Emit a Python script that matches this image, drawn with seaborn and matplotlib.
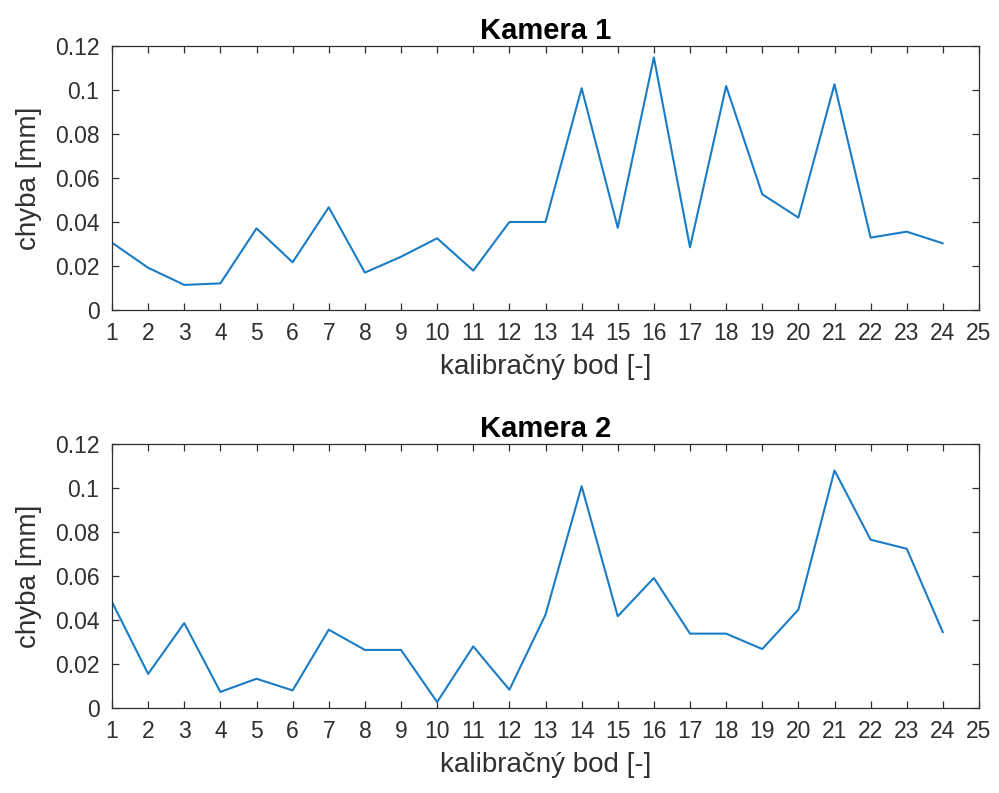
import matplotlib
matplotlib.use("Agg")
import matplotlib.pyplot as plt
import seaborn as sns
import pandas as pd

body = list(range(1, 25))
kamera1 = [0.0306, 0.0192, 0.0114, 0.0121, 0.0371, 0.0217, 0.0467, 0.0170,
           0.0242, 0.0326, 0.0179, 0.0400, 0.0400, 0.1008, 0.0374, 0.1148,
           0.0285, 0.1018, 0.0526, 0.0420, 0.1026, 0.0329, 0.0356, 0.0303]
kamera2 = [0.0482, 0.0155, 0.0386, 0.0073, 0.0133, 0.0080, 0.0356, 0.0264,
           0.0264, 0.0027, 0.0280, 0.0083, 0.0424, 0.1008, 0.0417, 0.0591,
           0.0338, 0.0338, 0.0268, 0.0447, 0.1080, 0.0765, 0.0724, 0.0344]
titles = ["Kamera 1", "Kamera 2"]
xticks = list(range(1, 26))
yticks = [0, 0.02, 0.04, 0.06, 0.08, 0.1, 0.12]
ytick_labels = ["0", "0.02", "0.04", "0.06", "0.08", "0.1", "0.12"]
xlabel = "kalibračný bod [-]"
ylabel = "chyba [mm]"

sns.set_style("ticks")
plt.rcParams['font.family'] = ['Liberation Sans', 'DejaVu Sans']

fig = plt.figure(figsize=(9.99, 7.93), dpi=100)
W, H = 999, 793
frames = [(112, 46, 979, 310), (112, 444, 979, 708)]
txt = "#303030"
for (l, t, r, b), title, vals in zip(frames, titles, [kamera1, kamera2]):
    ax = fig.add_axes([l / W, 1 - b / H, (r - l) / W, (b - t) / H])
    df = pd.DataFrame({"bod": body, "chyba": vals})
    sns.lineplot(data=df, x="bod", y="chyba", ax=ax, color="#1a7cc4", linewidth=1.5)
    ax.set_xlim(1, 25)
    ax.set_ylim(0, 0.12)
    ax.set_xticks(xticks)
    ax.set_xticklabels([str(v) for v in xticks])
    ax.set_yticks(yticks)
    ax.set_yticklabels(ytick_labels)
    ax.tick_params(direction="in", length=5, width=0.9, colors=txt,
                   labelsize=16.5, top=True, right=True, pad=9)
    for s in ax.spines.values():
        s.set_visible(True)
        s.set_color(txt)
        s.set_linewidth(0.9)
    ax.set_title(title, fontsize=21, fontweight="bold", color="black", pad=5)
    ax.set_xlabel(xlabel, fontsize=20, color=txt, labelpad=6)
    ax.set_ylabel(ylabel, fontsize=20, color=txt, labelpad=9)

fig.savefig("out.png", dpi=100)
